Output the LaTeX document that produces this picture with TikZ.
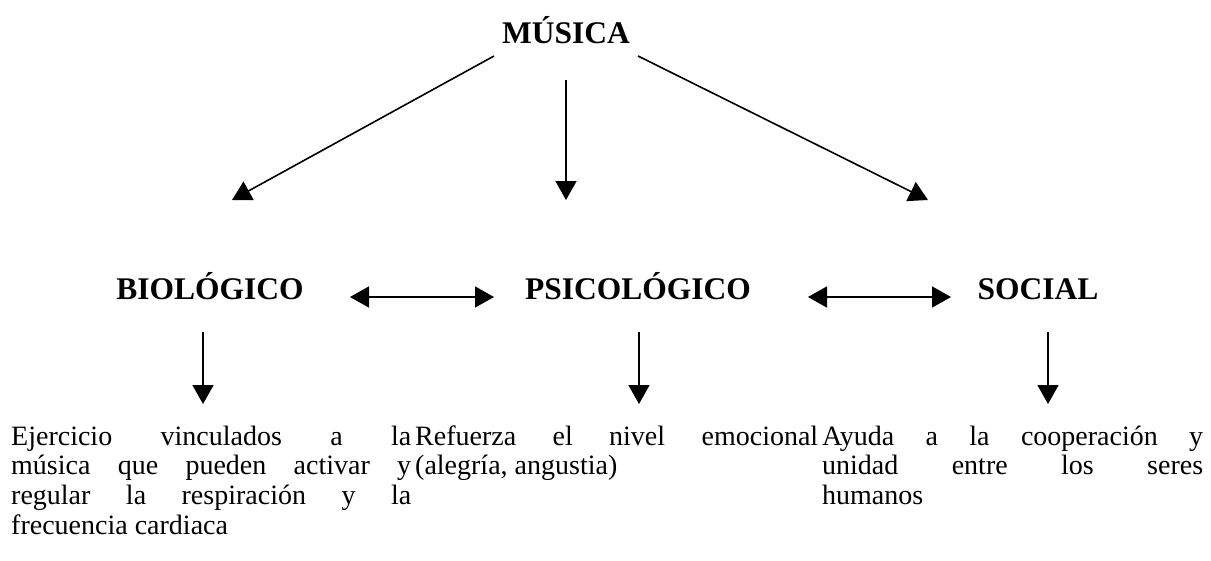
\documentclass[tikz,border=0pt]{standalone}
\usepackage{fontspec}
\setmainfont{Liberation Serif}
\usetikzlibrary{arrows.meta}
\begin{document}
\begin{tikzpicture}[x=1pt,y=-1pt,
  head/.style={font=\bfseries\fontsize{31.5}{36}\selectfont, inner sep=0pt, anchor=base},
  body/.style={font=\fontsize{28}{29.7}\selectfont, inner sep=0pt, anchor=base west},
  arr/.style={line width=1.6pt, -{Triangle[length=19pt,width=21pt]}},
  darr/.style={line width=1.6pt, {Triangle[length=19pt,width=21pt]}-{Triangle[length=19pt,width=21pt]}}]
\useasboundingbox (0,0) rectangle (1211,560);
% headings
\node[head] (musica) at (566,43) {MÚSICA};
\node[head] (bio) at (210,299) {BIOLÓGICO};
\node[head] (psi) at (638,299) {PSICOLÓGICO};
\node[head] (soc) at (1038,299) {SOCIAL};
% texts
\node[body] (bioT) at (11,445) {\vtop{\hbox{\makebox[400pt][s]{Ejercicio vinculados a la}}
  \hbox{\makebox[400pt][s]{música que pueden activar y}}
  \hbox{\makebox[400pt][s]{regular la respiración y la}}
  \hbox{frecuencia cardiaca}}};
\node[body] (psiT) at (415,445) {\vtop{\hbox{\makebox[403pt][s]{Refuerza el nivel emocional}}
  \hbox{(alegría, angustia)}}};
\node[body] (socT) at (822,445) {\vtop{\hbox{\makebox[381pt][s]{Ayuda a la cooperación y}}
  \hbox{\makebox[381pt][s]{unidad entre los seres}}
  \hbox{humanos}}};
% connector ends
\coordinate (mL) at (494,56);
\coordinate (mC) at (566,80);
\coordinate (mR) at (638,56);
\coordinate (tL) at (232,200);
\coordinate (tC) at (566,200);
\coordinate (tR) at (928,200);
\coordinate (d1a) at (350,297);
\coordinate (d1b) at (494,297);
\coordinate (d2a) at (808,297);
\coordinate (d2b) at (951,297);
\coordinate (bD) at (203,332);
\coordinate (bT) at (203,404);
\coordinate (pD) at (639,332);
\coordinate (pT) at (639,404);
\coordinate (sD) at (1048,332);
\coordinate (sT) at (1048,404);
% connectors
\draw[arr] (mL) -- (tL);
\draw[arr] (mC) -- (tC);
\draw[arr] (mR) -- (tR);
\draw[darr] (d1a) -- (d1b);
\draw[darr] (d2a) -- (d2b);
\draw[arr] (bD) -- (bT);
\draw[arr] (pD) -- (pT);
\draw[arr] (sD) -- (sT);
\end{tikzpicture}
\end{document}
